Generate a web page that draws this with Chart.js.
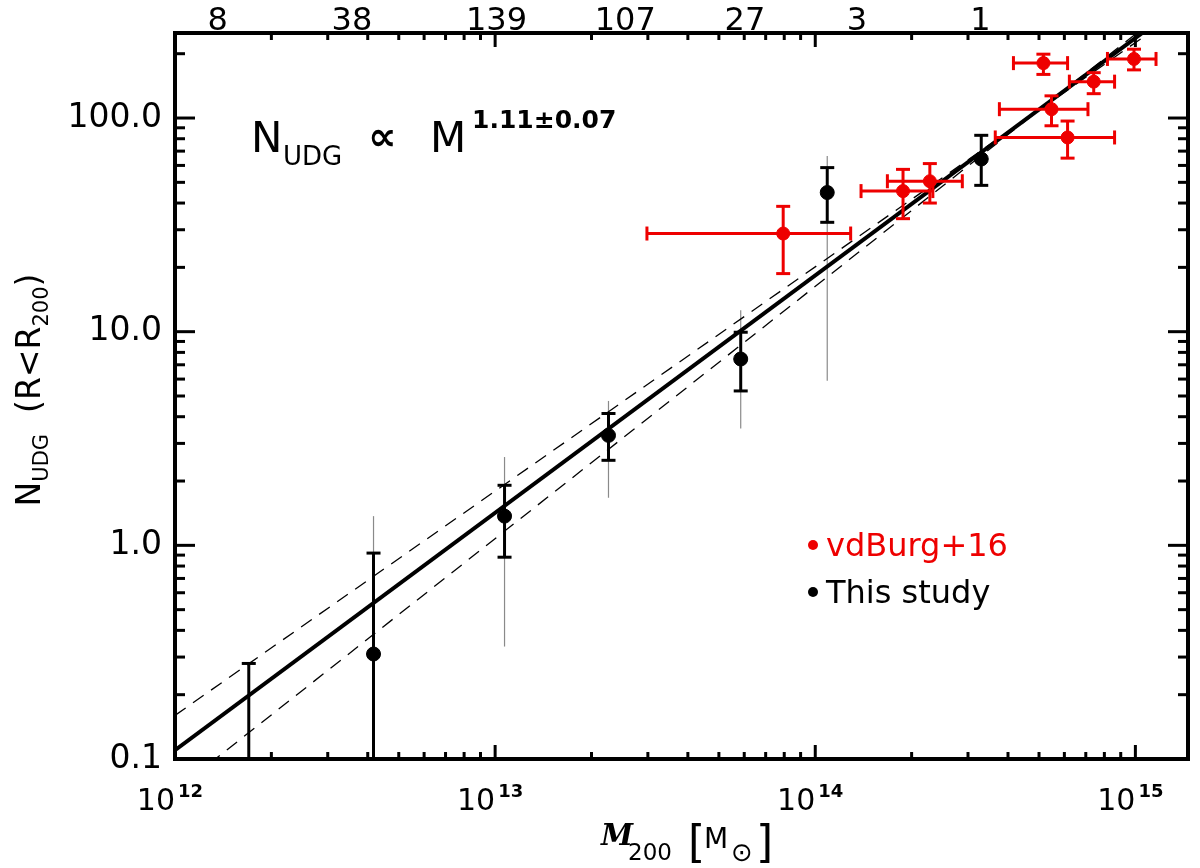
<!DOCTYPE html>
<html>
<head>
<meta charset="utf-8">
<title>N_UDG vs M200</title>
<script src="https://cdn.jsdelivr.net/npm/chart.js@4.4.1/dist/chart.umd.min.js"></script>
<style>
    html, body { margin: 0; padding: 0; background: #fff; }
    canvas { display: block; }
</style>
</head>
<body>
<canvas id="udg-mass" width="1200" height="868"></canvas>
<script>
// axis ranges
const massRange = [1e12, 1.46e15]
const countRange = [0.1, 250]

// this study (black), binned by halo mass
const studyMass = [1.70e12, 4.17e12, 1.07e13, 2.26e13, 5.85e13, 1.09e14, 3.30e14]
const studyN = [null, 0.31, 1.37, 3.27, 7.45, 44.8, 64.3]
const studyLo = [0, 0, 0.88, 2.50, 5.28, 32.5, 48.4]
const studyHi = [0.28, 0.92, 1.91, 4.14, 9.94, 58.6, 83]
const studyLoWide = [null, 0, 0.336, 1.67, 3.52, 5.89, null]
const studyHiWide = [null, 1.37, 2.59, 4.74, 12.6, 66.4, null]

// vdBurg+16 clusters (red)
const burgMass = [7.94e13, 1.88e14, 2.28e14, 5.16e14, 9.9e14, 7.41e14, 5.47e14, 6.14e14]
const burgN = [28.8, 45.5, 50.6, 180.7, 189, 148, 110, 81.1]
const burgNLo = [18.7, 33.8, 40, 160, 168, 130, 92, 64.9]
const burgNHi = [38.6, 57.5, 61.2, 199, 210, 163, 127, 96.8]
const burgMassLo = [2.98e13, 1.39e14, 1.68e14, 4.16e14, 8.18e14, 6.22e14, 3.76e14, 3.65e14]
const burgMassHi = [1.29e14, 2.33e14, 2.88e14, 6.14e14, 1.16e15, 8.61e14, 7.11e14, 8.61e14]

// power-law fit and its 1 sigma slope range (end points)
const fitMass = [1e12, 1.2e15]
const fitN = [0.11, 290]
const fitUpperN = [0.16, 273]
const fitLowerN = [0.071, 306]

// tick labels
const bottomTicks = [1e12, 1e13, 1e14, 1e15]
const bottomExponents = ['12', '13', '14', '15']
const leftTicks = [0.1, 1, 10, 100]
const leftLabels = ['0.1', '1.0', '10.0', '100.0']
const topTickMass = [1.36e12, 3.57e12, 1.01e13, 2.55e13, 6.03e13, 1.35e14, 3.28e14]
const topTickLabels = ['8', '38', '139', '107', '27', '3', '1']

const RED = '#ee0000'
const FONT = '"DejaVu Sans", sans-serif'

const pts = (xs, ys) => xs.map((v, i) => ({x: v, y: ys[i]}))

function logTicks(min, max) {
    const out = []
    for (let e = Math.floor(Math.log10(min)); e <= Math.ceil(Math.log10(max)); e++) {
        for (let k = 1; k <= 9; k++) {
            const v = k * Math.pow(10, e)
            if (v >= min * 0.999 && v <= max * 1.001) out.push({v: v, major: k === 1})
        }
    }
    return out
}

function line(ctx, x1, y1, x2, y2) {
    ctx.beginPath()
    ctx.moveTo(x1, y1)
    ctx.lineTo(x2, y2)
    ctx.stroke()
}

function txt(ctx, s, x, y, font, color, align) {
    ctx.font = font
    ctx.fillStyle = color || '#000'
    ctx.textAlign = align || 'left'
    ctx.fillText(s, x, y)
}

const errorBars = {
    id: 'errorBars',
    beforeDatasetsDraw(chart) {
        // thin grey wide ranges sit under everything
        const {ctx, chartArea: a, scales: {x, y}} = chart
        ctx.save()
        ctx.beginPath()
        ctx.rect(a.left, a.top, a.right - a.left, a.bottom - a.top)
        ctx.clip()
        ctx.strokeStyle = '#8a8a8a'
        ctx.lineWidth = 1.2
        studyMass.forEach((m, i) => {
            if (studyHiWide[i] == null) return
            const px = x.getPixelForValue(m)
            const lo = studyLoWide[i] > 0 ? y.getPixelForValue(studyLoWide[i]) : a.bottom + 10
            line(ctx, px, y.getPixelForValue(studyHiWide[i]), px, lo)
        })
        ctx.restore()
    },
    afterDatasetsDraw(chart) {
        const {ctx, chartArea: a, scales: {x, y}} = chart
        const cap = 7
        ctx.save()
        ctx.beginPath()
        ctx.rect(a.left, a.top, a.right - a.left, a.bottom - a.top)
        ctx.clip()

        ctx.strokeStyle = '#000'
        ctx.lineWidth = 3
        studyMass.forEach((m, i) => {
            const px = x.getPixelForValue(m)
            const top = y.getPixelForValue(studyHi[i])
            const bot = studyLo[i] > 0 ? y.getPixelForValue(studyLo[i]) : a.bottom + 10
            line(ctx, px, top, px, bot)
            line(ctx, px - cap, top, px + cap, top)
            if (studyLo[i] > 0) line(ctx, px - cap, bot, px + cap, bot)
        })

        ctx.strokeStyle = RED
        burgMass.forEach((m, i) => {
            const px = x.getPixelForValue(m)
            const py = y.getPixelForValue(burgN[i])
            const top = y.getPixelForValue(burgNHi[i])
            const bot = y.getPixelForValue(burgNLo[i])
            const left = x.getPixelForValue(burgMassLo[i])
            const right = x.getPixelForValue(burgMassHi[i])
            line(ctx, px, top, px, bot)
            line(ctx, px - cap, top, px + cap, top)
            line(ctx, px - cap, bot, px + cap, bot)
            line(ctx, left, py, right, py)
            line(ctx, left, py - cap, left, py + cap)
            line(ctx, right, py - cap, right, py + cap)
        })
        ctx.restore()
    },
    afterDraw(chart) {
        const {ctx, chartArea: a, scales: {x, y}} = chart
        ctx.save()

        // frame
        ctx.strokeStyle = '#000'
        ctx.lineWidth = 4
        ctx.strokeRect(a.left, a.top, a.right - a.left, a.bottom - a.top)

        // inward ticks
        ctx.lineWidth = 3
        logTicks(x.min, x.max).forEach(t => {
            const px = x.getPixelForValue(t.v)
            const len = t.major ? 14 : 7
            line(ctx, px, a.bottom, px, a.bottom - len)
            line(ctx, px, a.top, px, a.top + len)
        })
        logTicks(y.min, y.max).forEach(t => {
            const py = y.getPixelForValue(t.v)
            const len = t.major ? 20 : 10
            line(ctx, a.left, py, a.left + len, py)
            line(ctx, a.right, py, a.right - len, py)
        })

        // left labels
        ctx.textBaseline = 'middle'
        leftTicks.forEach((v, i) => {
            txt(ctx, leftLabels[i], a.left - 13, y.getPixelForValue(v), '33px ' + FONT, '#000', 'right')
        })

        // bottom labels 10^n
        ctx.textBaseline = 'alphabetic'
        bottomTicks.forEach((v, i) => {
            const px = x.getPixelForValue(v)
            txt(ctx, '10', px, 810, '30px ' + FONT, '#000', 'right')
            txt(ctx, bottomExponents[i], px + 3, 797, 'bold 18px ' + FONT, '#000', 'left')
        })

        // top labels: number of groups per bin
        topTickMass.forEach((m, i) => {
            txt(ctx, topTickLabels[i], x.getPixelForValue(m), 30, '32px ' + FONT, '#000', 'center')
        })

        // x title: M_200 [M_sun]
        txt(ctx, 'M', 601, 845, 'italic bold 29px "DejaVu Serif", serif')
        txt(ctx, '200', 628, 860, '23px ' + FONT)
        txt(ctx, '[', 688, 857, '44px ' + FONT)
        txt(ctx, 'M', 704, 848, '28px ' + FONT)
        txt(ctx, '\u2299', 731, 861, '26px ' + FONT)
        txt(ctx, ']', 756, 857, '44px ' + FONT)

        // y title: N_UDG (R<R_200), rotated
        ctx.save()
        ctx.translate(40, 390)
        ctx.rotate(-Math.PI / 2)
        const parts = [
            ['N', '33px ', 0], ['UDG', '21px ', 8], ['  (R<R', '33px ', 0], ['200', '21px ', 8], [')', '33px ', 0]
        ]
        let w = 0
        parts.forEach(p => { ctx.font = p[1] + FONT; w += ctx.measureText(p[0]).width })
        let cx = -w / 2
        parts.forEach(p => {
            ctx.font = p[1] + FONT
            ctx.fillStyle = '#000'
            ctx.textAlign = 'left'
            ctx.fillText(p[0], cx, p[2])
            cx += ctx.measureText(p[0]).width
        })
        ctx.restore()

        // fit annotation
        txt(ctx, 'N', 251, 152, '42px ' + FONT)
        txt(ctx, 'UDG', 283, 165, '26px ' + FONT)
        txt(ctx, '\u221D', 368, 150, 'bold 40px ' + FONT)
        txt(ctx, 'M', 430, 152, '42px ' + FONT)
        txt(ctx, '1.11\u00B10.07', 472, 128, 'bold 25px ' + FONT)

        // legend
        ctx.fillStyle = RED
        ctx.beginPath(); ctx.arc(813, 545, 5, 0, Math.PI * 2); ctx.fill()
        txt(ctx, 'vdBurg+16', 826, 556, '32px ' + FONT, RED)
        ctx.fillStyle = '#000'
        ctx.beginPath(); ctx.arc(813, 592, 5, 0, Math.PI * 2); ctx.fill()
        txt(ctx, 'This study', 826, 603, '32px ' + FONT, '#000')

        ctx.restore()
    }
}

const udgData = {
    datasets: [
        {
            label: 'This study',
            data: pts(studyMass, studyN),
            backgroundColor: '#000',
            borderColor: '#000',
            pointRadius: 7,
            order: 0,
        },
        {
            label: 'vdBurg+16',
            data: pts(burgMass, burgN),
            backgroundColor: RED,
            borderColor: RED,
            pointRadius: 6.5,
            order: 0,
        },
        {
            type: 'line',
            label: 'fit',
            data: pts(fitMass, fitN),
            borderColor: '#000',
            borderWidth: 4,
            pointRadius: 0,
            clip: 0,
            order: 1,
        },
        {
            type: 'line',
            label: 'fit upper',
            data: pts(fitMass, fitUpperN),
            borderColor: '#000',
            borderWidth: 1.3,
            borderDash: [13, 9],
            pointRadius: 0,
            clip: 0,
            order: 2,
        },
        {
            type: 'line',
            label: 'fit lower',
            data: pts(fitMass, fitLowerN),
            borderColor: '#000',
            borderWidth: 1.3,
            borderDash: [13, 9],
            pointRadius: 0,
            clip: 0,
            order: 2,
        },
    ],
}

const udgConfig = {
    type: 'scatter',
    data: udgData,
    options: {
        responsive: false,
        animation: false,
        layout: {
            padding: {left: 175, top: 33, right: 12, bottom: 109}
        },
        scales: {
            x: {type: 'logarithmic', min: massRange[0], max: massRange[1], display: false},
            y: {type: 'logarithmic', min: countRange[0], max: countRange[1], display: false},
        },
        plugins: {
            legend: {display: false},
            tooltip: {enabled: false},
        }
    },
    plugins: [errorBars],
}

const ctx = document.getElementById('udg-mass')
const udgChart = new Chart(ctx, udgConfig)
</script>
</body>
</html>
